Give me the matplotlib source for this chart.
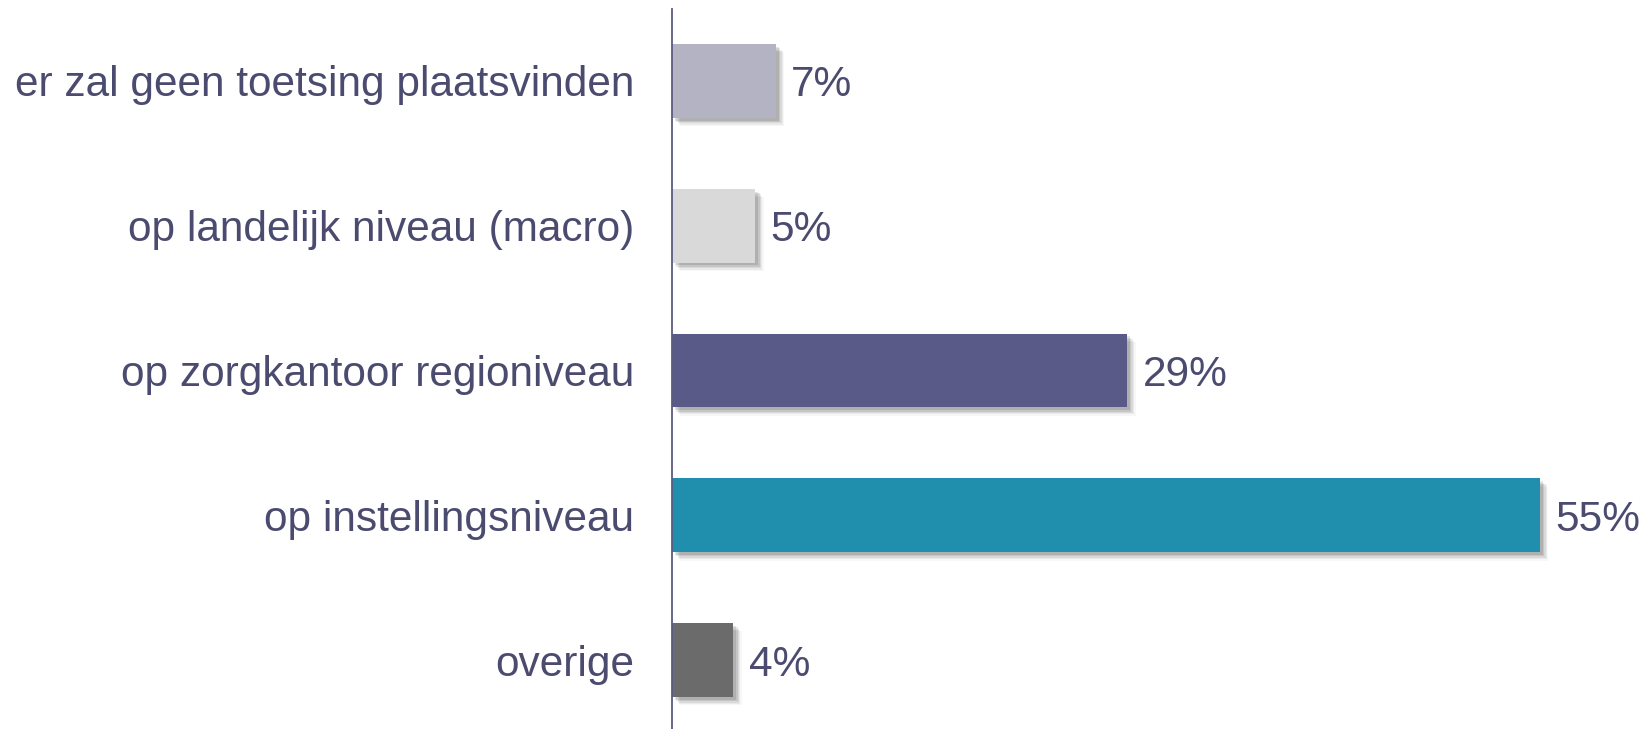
import matplotlib
matplotlib.use("Agg")
import matplotlib.pyplot as plt
import matplotlib.patheffects as pe

categories = ["er zal geen toetsing plaatsvinden",
              "op landelijk niveau (macro)",
              "op zorgkantoor regioniveau",
              "op instellingsniveau",
              "overige"]
values = [6.6, 5.3, 28.9, 55.1, 3.9]
labels = ["7%", "5%", "29%", "55%", "4%"]
colors = ["#b3b3c4", "#d9d9d9", "#5a5a89", "#1f8fad", "#6b6b6b"]

text_color = "#4b4b70"
plt.rcParams['font.family'] = ['Liberation Sans', 'DejaVu Sans']

fig = plt.figure(figsize=(16.44, 7.29), dpi=100)
ax = fig.add_axes([672/1644, 0, 1 - 672/1644, 720/729])

ypos = list(range(len(categories)))
shadow = [pe.SimplePatchShadow(offset=(o, -o), shadow_rgbFace="#000000", alpha=a)
          for o, a in [(6.0, 0.03), (5.0, 0.05), (4.0, 0.07), (3.0, 0.09), (2.0, 0.1)]] + [pe.Normal()]
bars = ax.barh(ypos, values, height=0.51, color=colors, zorder=2)
for b in bars:
    b.set_path_effects(shadow)

for y, v, l in zip(ypos, values, labels):
    ax.annotate(l, (v, y), xytext=(11, 0), textcoords="offset points",
                va="center_baseline", ha="left", fontsize=30.5, color=text_color)

ax.set_xlim(0, 61.7)
ax.set_ylim(4.476, -0.497)
ax.set_yticks(ypos)
ax.set_yticklabels(categories, fontsize=30.5, color=text_color)
ax.tick_params(axis="y", length=0, pad=27)
ax.set_xticks([])
for s in ["top", "right", "bottom"]:
    ax.spines[s].set_visible(False)
ax.spines["left"].set_color("#5a5a80")
ax.spines["left"].set_linewidth(1.3)
ax.spines["left"].set_zorder(3)

fig.savefig("out.png", dpi=100, facecolor="white")
